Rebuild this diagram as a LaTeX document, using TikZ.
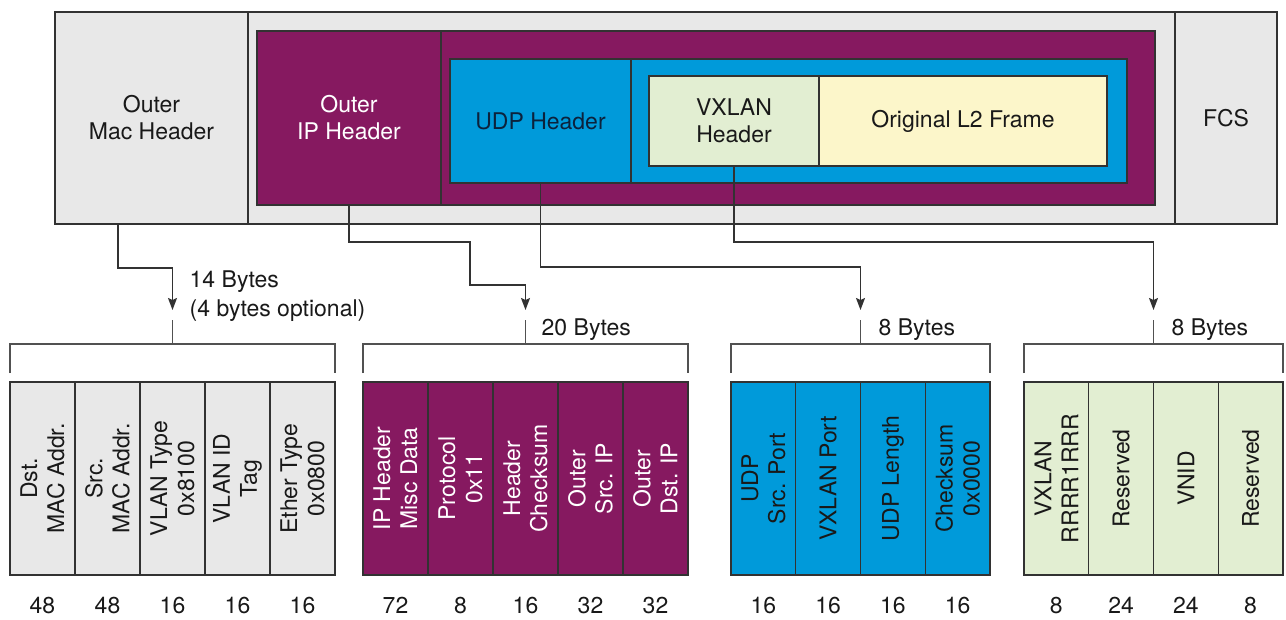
\documentclass[tikz,border=0pt]{standalone}
\usepackage{fontspec}
\setmainfont{TeX Gyre Heros}
\usetikzlibrary{positioning,calc,arrows.meta}

\definecolor{macgray}{RGB}{232,232,232}
\definecolor{ippurple}{RGB}{134,25,96}
\definecolor{udpblue}{RGB}{0,154,218}
\definecolor{vxgreen}{RGB}{226,238,210}
\definecolor{l2yellow}{RGB}{252,246,202}
\definecolor{edge}{RGB}{50,50,50}
\definecolor{ink}{RGB}{25,25,25}
\definecolor{navy}{RGB}{12,34,60}

\tikzset{
  box/.style={draw=edge, line width=1.4pt, inner sep=0pt, outer sep=0pt, anchor=north west,
    align=center, text=ink, font=\fontsize{23}{27}\selectfont},
  field/.style={draw=edge, line width=1.4pt, inner sep=0pt, outer sep=0pt, minimum height=193pt},
  vtext/.style={rotate=90, align=center, inner sep=0pt, text=ink, font=\fontsize{23}{27}\selectfont},
  vlabel/.style={label={[vtext]center:{#1}}},
  wlabel/.style={label={[vtext,text=white]center:{#1}}},
  bits/.style={inner sep=0pt, text=ink, font=\fontsize{23}{27}\selectfont},
  bytes/.style={inner sep=0pt, text=ink, align=left, font=\fontsize{23}{29}\selectfont},
  bracket/.style={draw=edge!85, line width=1.4pt},
  conn/.style={draw=edge, line width=1.4pt, -{Stealth[length=12pt,width=9pt,inset=2pt]}},
}

\begin{document}
\begin{tikzpicture}[x=1pt,y=-1pt]
  \useasboundingbox (0,0) rectangle (1286,619);

  % Drawing the outer frame
  \node[box, fill=macgray, minimum width=193pt, minimum height=212pt] (mac) at (55,12) {Outer\\Mac Header};
  \node[box, fill=macgray, minimum width=927pt, minimum height=212pt, right=0pt of mac] (frame) {};
  \node[box, fill=macgray, minimum width=102pt, minimum height=212pt, right=0pt of frame] (fcs) {FCS};

  % Drawing the outer IP part
  \node[box, fill=ippurple, minimum width=898pt, minimum height=174pt] (ipbox) at (257,31) {};
  \node[box, text=white, minimum width=184pt, minimum height=174pt] (iphdr) at (257,31) {Outer\\IP Header};

  % Drawing the UDP part
  \node[box, fill=udpblue, minimum width=677pt, minimum height=124pt] (udpbox) at (450,59) {};
  \node[box, text=navy, minimum width=181pt, minimum height=124pt] (udphdr) at (450,59) {UDP Header};

  % Drawing VXLAN header and inner frame
  \node[box, fill=vxgreen, minimum width=170pt, minimum height=90pt] (vxhdr) at (649,76) {VXLAN\\Header};
  \node[box, fill=l2yellow, minimum width=288pt, minimum height=90pt, right=0pt of vxhdr] (l2frame) {Original L2 Frame};

  % Drawing fields of the outer Mac header
  \node[field, fill=macgray, minimum width=65pt, anchor=north west, vlabel={Dst.\\MAC Addr.}] (dstmac) at (10,382) {};
  \node[field, fill=macgray, minimum width=65pt, right=0pt of dstmac, vlabel={Src.\\MAC Addr.}] (srcmac) {};
  \node[field, fill=macgray, minimum width=65pt, right=0pt of srcmac, vlabel={VLAN Type\\0x8100}] (vlantype) {};
  \node[field, fill=macgray, minimum width=65pt, right=0pt of vlantype, vlabel={VLAN ID\\Tag}] (vlanid) {};
  \node[field, fill=macgray, minimum width=65pt, right=0pt of vlanid, vlabel={Ether Type\\0x0800}] (ethtype) {};

  \node[bits, below=22pt of dstmac] (dstmacbits) {48};
  \node[bits, below=22pt of srcmac] (srcmacbits) {48};
  \node[bits, below=22pt of vlantype] (vlantypebits) {16};
  \node[bits, below=22pt of vlanid] (vlanidbits) {16};
  \node[bits, below=22pt of ethtype] (ethtypebits) {16};

  % Drawing fields of the outer IP header
  \node[field, fill=ippurple, minimum width=65pt, anchor=north west, wlabel={IP Header\\Misc Data}] (ipmisc) at (363,382) {};
  \node[field, fill=ippurple, minimum width=65pt, right=0pt of ipmisc, wlabel={Protocol\\0x11}] (ipproto) {};
  \node[field, fill=ippurple, minimum width=65pt, right=0pt of ipproto, wlabel={Header\\Checksum}] (ipcsum) {};
  \node[field, fill=ippurple, minimum width=65pt, right=0pt of ipcsum, wlabel={Outer\\Src. IP}] (ipsrc) {};
  \node[field, fill=ippurple, minimum width=65pt, right=0pt of ipsrc, wlabel={Outer\\Dst. IP}] (ipdst) {};

  \node[bits, below=22pt of ipmisc] (ipmiscbits) {72};
  \node[bits, below=22pt of ipproto] (ipprotobits) {8};
  \node[bits, below=22pt of ipcsum] (ipcsumbits) {16};
  \node[bits, below=22pt of ipsrc] (ipsrcbits) {32};
  \node[bits, below=22pt of ipdst] (ipdstbits) {32};

  % Drawing fields of the UDP header
  \node[field, fill=udpblue, minimum width=64.75pt, anchor=north west, vlabel={UDP\\Src. Port}] (udpsrc) at (731,382) {};
  \node[field, fill=udpblue, minimum width=64.75pt, right=0pt of udpsrc, vlabel={VXLAN Port}] (udpdst) {};
  \node[field, fill=udpblue, minimum width=64.75pt, right=0pt of udpdst, vlabel={UDP Length}] (udplen) {};
  \node[field, fill=udpblue, minimum width=64.75pt, right=0pt of udplen, vlabel={Checksum\\0x0000}] (udpcsum) {};

  \node[bits, below=22pt of udpsrc] (udpsrcbits) {16};
  \node[bits, below=22pt of udpdst] (udpdstbits) {16};
  \node[bits, below=22pt of udplen] (udplenbits) {16};
  \node[bits, below=22pt of udpcsum] (udpcsumbits) {16};

  % Drawing fields of the VXLAN header
  \node[field, fill=vxgreen, minimum width=64.75pt, anchor=north west, vlabel={VXLAN\\RRRR1RRR}] (vxflags) at (1024,382) {};
  \node[field, fill=vxgreen, minimum width=64.75pt, right=0pt of vxflags, vlabel={Reserved}] (vxres) {};
  \node[field, fill=vxgreen, minimum width=64.75pt, right=0pt of vxres, vlabel={VNID}] (vxvnid) {};
  \node[field, fill=vxgreen, minimum width=64.75pt, right=0pt of vxvnid, vlabel={Reserved}] (vxresb) {};

  \node[bits, below=22pt of vxflags] (vxflagsbits) {8};
  \node[bits, below=22pt of vxres] (vxresbits) {24};
  \node[bits, below=22pt of vxvnid] (vxvnidbits) {24};
  \node[bits, below=22pt of vxresb] (vxresbbits) {8};

  % Drawing brackets over the field groups
  \coordinate (ethbr) at ($(dstmac.north west)!0.5!(ethtype.north east)+(0,-38)$);
  \coordinate (ipbr) at ($(ipmisc.north west)!0.5!(ipdst.north east)+(0,-38)$);
  \coordinate (udpbr) at ($(udpsrc.north west)!0.5!(udpcsum.north east)+(0,-38)$);
  \coordinate (vxbr) at ($(vxflags.north west)!0.5!(vxresb.north east)+(0,-38)$);

  \draw[bracket] ([yshift=9pt]dstmac.north west) |- (ethbr) -| ([yshift=9pt]ethtype.north east);
  \draw[bracket] (ethbr) -- ++(0,-24);
  \draw[bracket] ([yshift=9pt]ipmisc.north west) |- (ipbr) -| ([yshift=9pt]ipdst.north east);
  \draw[bracket] (ipbr) -- ++(0,-24);
  \draw[bracket] ([yshift=9pt]udpsrc.north west) |- (udpbr) -| ([yshift=9pt]udpcsum.north east);
  \draw[bracket] (udpbr) -- ++(0,-24);
  \draw[bracket] ([yshift=9pt]vxflags.north west) |- (vxbr) -| ([yshift=9pt]vxresb.north east);
  \draw[bracket] (vxbr) -- ++(0,-24);

  % Marking the lengths
  \node[bytes, anchor=north west] (ethlen) at ($(ethbr)+(17,-73)$) {14 Bytes\\(4 bytes optional)};
  \node[bytes, anchor=base west] (iplen) at ($(ipbr)+(16,-9)$) {20 Bytes};
  \node[bytes, anchor=base west] (udplen) at ($(udpbr)+(18,-9)$) {8 Bytes};
  \node[bytes, anchor=base west] (vxlen) at ($(vxbr)+(18,-9)$) {8 Bytes};

  % Drawing connectors from the frame to the groups
  \coordinate (ipbend) at (470,285);
  \draw[conn] ([xshift=63pt]mac.south west) -- ++(0,44) -| ($(ethbr)+(0,-34)$);
  \draw[conn] (iphdr.south) -- ++(0,37) -| (ipbend) -| ($(ipbr)+(0,-34)$);
  \draw[conn] (udphdr.south) -- ++(0,84) -| ($(udpbr)+(0,-34)$);
  \draw[conn] (vxhdr.south) -- ++(0,76) -| ($(vxbr)+(0,-34)$);
\end{tikzpicture}
\end{document}
